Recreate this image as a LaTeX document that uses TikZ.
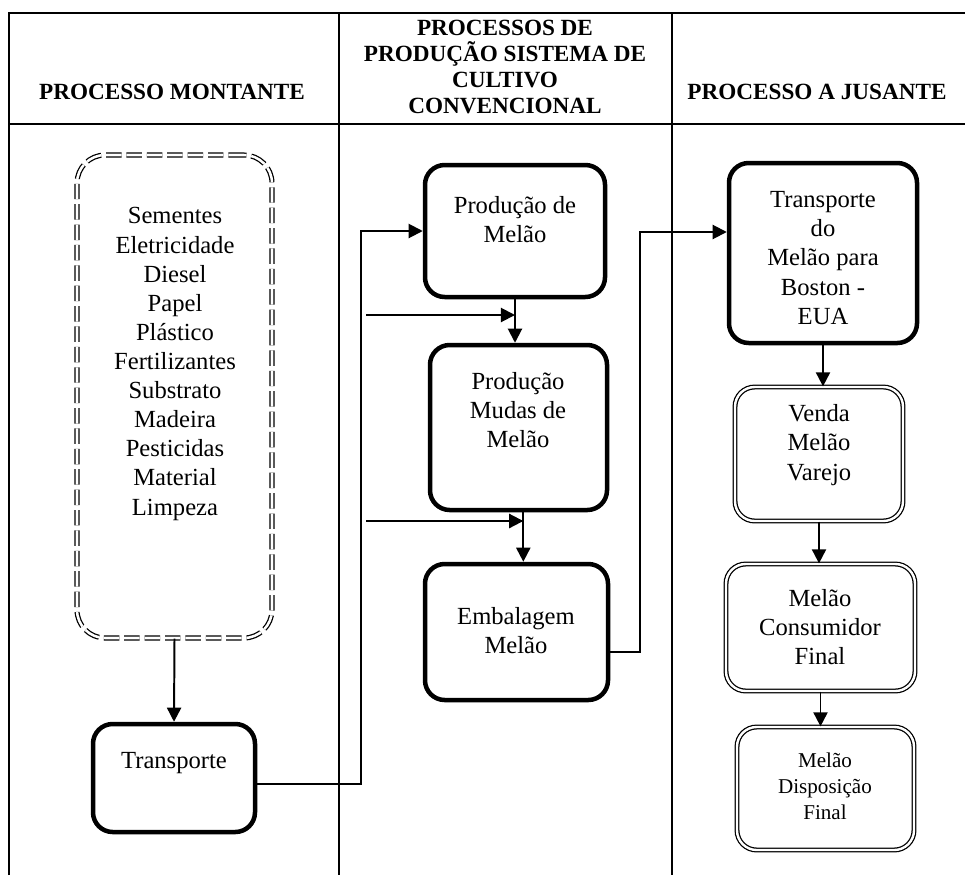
\documentclass[tikz,border=0pt]{standalone}
\usepackage{fontspec}
\setmainfont{Liberation Serif}
\usetikzlibrary{arrows.meta,fit}
\tikzstyle{tablerule} = [line width=1.4pt]
\tikzstyle{headtitle} = [align=center, font=\bfseries\fontsize{16.5}{18.6}\selectfont, inner sep=0pt]
\tikzstyle{boxtext} = [align=center, font=\fontsize{17.5}{20.7}\selectfont, inner sep=0pt]
\tikzstyle{smalltext} = [align=center, font=\fontsize{15}{18.5}\selectfont, inner sep=0pt]
\tikzstyle{procbox} = [draw=black, line width=3.2pt, rectangle,
    rounded corners=14pt, inner sep=0pt]
\tikzstyle{inputbox} = [draw=black, line width=0.9pt, double, double distance=1.8pt,
    dash pattern=on 11pt off 3.5pt, rounded corners=20pt, inner sep=0pt]
\tikzstyle{endbox} = [draw=black, line width=0.9pt, double, double distance=1.7pt,
    rounded corners=14pt, inner sep=0pt]
\tikzstyle{flow} = [line width=1.4pt, -{Triangle[length=10pt,width=10pt]}]

\begin{document}
\begin{tikzpicture}[x=0.025cm, y=-0.025cm]
\useasboundingbox (0,0) rectangle (965,875);

% table
\draw[tablerule] (9,875) -- (9,13) -- (965,13);
\draw[tablerule] (9,124) -- (965,124);
\draw[tablerule] (339,13) -- (339,875);
\draw[tablerule] (672,13) -- (672,875);
\node[headtitle] (head1) at (172,92) {PROCESSO MONTANTE};
\node[headtitle] (head2) at (505,67) {PROCESSOS DE\\PRODUÇÃO SISTEMA DE\\CULTIVO\\CONVENCIONAL};
\node[headtitle] (head3) at (817,92) {PROCESSO A JUSANTE};

% montante
\node[inputbox, fit={(77,155) (272,638)}] (insumos) {};
\node[boxtext] (insumos-txt) at (175,364) {Sementes\\Eletricidade\\Diesel\\Papel\\Plástico\\Fertilizantes\\Substrato\\Madeira\\Pesticidas\\Material\\Limpeza};
\node[procbox, fit={(93,724) (255,832)}] (transp) {};
\node[boxtext] (transp-txt) at (174,763) {Transporte};

% producao
\node[procbox, fit={(425,165) (605,297)}] (prod) {};
\node[boxtext] (prod-txt) at (515,220) {Produção de\\Melão};
\node[procbox, fit={(430,345) (607,510)}] (mudas) {};
\node[boxtext] (mudas-txt) at (518,410) {Produção\\Mudas de\\Melão};
\node[procbox, fit={(425,564) (608,700)}] (emb) {};
\node[boxtext] (emb-txt) at (516,631) {Embalagem\\Melão};

% jusante
\node[procbox, fit={(729,163) (917,343)}] (tmelao) {};
\node[boxtext] (tmelao-txt) at (823,258) {Transporte\\do\\Melão para\\Boston -\\EUA};
\node[endbox, fit={(735,387) (903,521)}] (venda) {};
\node[boxtext] (venda-txt) at (819,445) {Venda\\Melão\\Varejo};
\node[endbox, fit={(726,564) (915,691)}] (consumo) {};
\node[boxtext] (consumo-txt) at (820,627) {Melão\\Consumidor\\Final};
\node[endbox, fit={(737,727) (914,850)}] (descarte) {};
\node[smalltext] (descarte-txt) at (825,786) {Melão\\Disposição\\Final};

% fluxos
\coordinate (feed1) at (366,315);
\coordinate (feed2) at (366,521);
\draw[flow] (insumos.south) -- (transp.north);
\draw[flow] ([yshift=-0.15cm]transp.east) -| ([xshift=-1.55cm]prod.west) -- (prod.west);
\draw[flow] (prod.south) -- (prod.south |- mudas.north);
\draw[flow] (feed1) -- (feed1 -| prod.south);
\draw[flow] ([xshift=0.12cm]mudas.south) -- ([xshift=0.12cm]mudas.south |- emb.north);
\draw[flow] (feed2) -- ([xshift=0.12cm]feed2 -| mudas.south);
\draw[flow] ([yshift=-0.5cm]emb.east) -| ([xshift=-2.175cm,yshift=0.525cm]tmelao.west) -- ([yshift=0.525cm]tmelao.west);
\draw[flow] (tmelao.south) -- (tmelao.south |- venda.north);
\draw[flow] (venda.south) -- (venda.south |- consumo.north);
\draw[flow] (consumo.south) -- (consumo.south |- descarte.north);
\end{tikzpicture}
\end{document}
